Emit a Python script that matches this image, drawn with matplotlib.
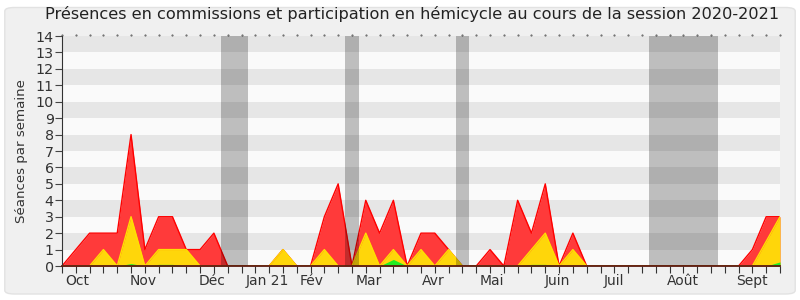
import matplotlib
matplotlib.use('Agg')
import matplotlib.pyplot as plt
from matplotlib.patches import FancyBboxPatch
from matplotlib.transforms import blended_transform_factory

# weekly values, session 2020-2021 (53 weeks)
weeks = list(range(53))
commissions = [0, 1, 2, 2, 2, 8, 1, 3, 3, 1, 1, 2, 0, 0, 0, 0, 1, 0, 0, 3,
               5, 0, 4, 2, 4, 0, 2, 2, 1, 0, 0, 1, 0, 4, 2, 5, 0, 2, 0, 0,
               0, 0, 0, 0, 0, 0, 0, 0, 0, 0, 1, 3, 3]
presences = [0, 0, 0, 1, 0, 3, 0, 1, 1, 1, 0, 0, 0, 0, 0, 0, 1, 0, 0, 1,
             0, 0, 2, 0, 1, 0, 1, 0, 1, 0, 0, 0, 0, 0, 1, 2, 0, 1, 0, 0,
             0, 0, 0, 0, 0, 0, 0, 0, 0, 0, 0, 1.5, 3]
interventions = [0, 0, 0, 0, 0, 0.15, 0, 0.1, 0.1, 0, 0, 0, 0, 0, 0, 0, 0, 0, 0, 0,
                 0, 0, 0, 0, 0.4, 0, 0, 0, 0, 0, 0, 0, 0, 0, 0.1, 0.1, 0, 0, 0, 0,
                 0, 0, 0, 0, 0, 0, 0, 0, 0, 0, 0, 0, 0.25]

# parliamentary holidays (start week, end week)
vacances = [(11.5, 13.5), (20.5, 21.5), (28.5, 29.5), (42.5, 47.5)]

mois = ['Oct', 'Nov', 'Déc', 'Jan 21', 'Fév', 'Mar', 'Avr', 'Mai', 'Juin', 'Juil', 'Août', 'Sept']
mois_pos = [1.07, 5.9, 10.9, 14.9, 18.1, 22.2, 26.9, 31.1, 35.9, 40.0, 45.0, 50.0]

fig = plt.figure(figsize=(8, 3), dpi=100)
fig.patch.set_facecolor('white')
fig.patches.append(FancyBboxPatch((0.006, 0.02), 0.988, 0.955, boxstyle='round,pad=0,rounding_size=0.012',
                                  transform=fig.transFigure, facecolor='#f0f0f0', edgecolor='#e2e2e2',
                                  linewidth=1, zorder=-10))

ax = fig.add_axes([0.0775, 0.1133, 0.8975, 0.7667])
ax.set_facecolor('#fafafa')
for k in range(1, 14, 2):
    ax.axhspan(k, k + 1, color='#e6e6e6', zorder=0, lw=0)

ax.fill_between(weeks, commissions, color='#ff3a3a', lw=0, zorder=2)
ax.plot(weeks, commissions, color='#ff0000', lw=1, zorder=2)
ax.fill_between(weeks, presences, color='#ffd60a', lw=0, zorder=3)
ax.plot(weeks, presences, color='#ffe000', lw=1, zorder=3)
ax.fill_between(weeks, interventions, color='#22ee22', lw=0, zorder=4)

for a, b in vacances:
    ax.axvspan(a, b, color='black', alpha=0.24, lw=0, zorder=5)

ax.set_xlim(0, 52)
ax.set_ylim(0, 14)

ax.set_yticks(range(15))
ax.tick_params(axis='y', labelsize=10.3, length=5, color='#444444', labelcolor='#333333', pad=1)
ax.set_xticks(weeks)
ax.set_xticklabels([])
ax.tick_params(axis='x', which='major', length=5, color='#333333')

trans = blended_transform_factory(ax.transData, ax.transAxes)
for p, m in zip(mois_pos, mois):
    ax.text(p, -0.035, m, transform=trans, ha='center', va='top', fontsize=10, color='#333333')

# little dots along the top edge
ax.plot(weeks, [1.004] * len(weeks), ls='none', marker='.', ms=1.0, color='#555555',
        transform=trans, clip_on=False)

for s in ['top', 'right']:
    ax.spines[s].set_visible(False)
ax.spines['left'].set_color('#333333')
ax.spines['bottom'].set_color('#5a1a10')
ax.spines['bottom'].set_linewidth(1.3)
ax.spines['bottom'].set_zorder(6)

ax.set_ylabel('Séances par semaine', fontsize=9.6, color='#333333', labelpad=5)
fig.text(0.515, 0.955, 'Présences en commissions et participation en hémicycle au cours de la session 2020-2021',
         ha='center', va='center', fontsize=11.6, color='#222222')

plt.savefig('out.png', dpi=100, facecolor=fig.get_facecolor())
